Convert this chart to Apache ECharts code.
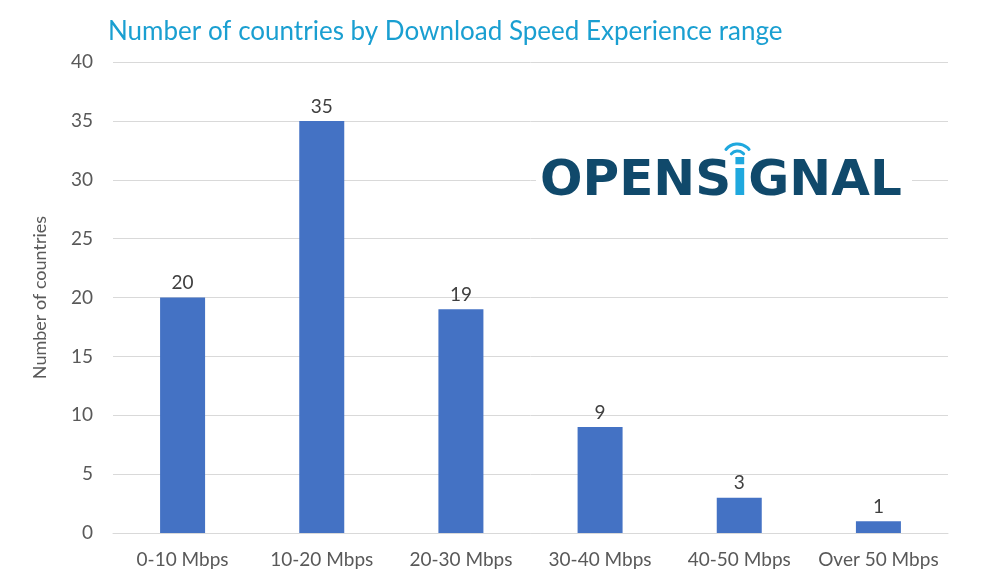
<!DOCTYPE html>
<html><head><meta charset="utf-8">
<script src="https://cdn.jsdelivr.net/npm/echarts@6/dist/echarts.min.js"></script>
<style>html,body{margin:0;padding:0;background:#fff}#c{width:1000px;height:586px}</style>
</head><body><div id="c"></div>
<script>
const categories = ['0-10 Mbps','10-20 Mbps','20-30 Mbps','30-40 Mbps','40-50 Mbps','Over 50 Mbps'];
const countries = [20, 35, 19, 9, 3, 1];
const yTicks = {min: 0, max: 40, interval: 5};

const chart = echarts.init(document.getElementById('c'));
chart.setOption({
  animation: false,
  title: {
    text: 'Number of countries by Download Speed Experience range',
    left: 103, top: 14,
    textStyle: {fontFamily: 'Lato', fontSize: 26, fontWeight: 'normal', color: '#1a9fd1'}
  },
  grid: {left: 113, right: 52, top: 62, bottom: 53},
  xAxis: {
    type: 'category', data: categories,
    axisLine: {lineStyle: {color: '#d9d9d9', width: 1}},
    axisTick: {show: false},
    axisLabel: {interval: 0, fontFamily: 'Lato', fontSize: 19, color: '#595959', margin: 17}
  },
  yAxis: {
    type: 'value', min: yTicks.min, max: yTicks.max, interval: yTicks.interval,
    name: 'Number of countries', nameLocation: 'middle', nameGap: 64,
    nameTextStyle: {fontFamily: 'Lato', fontSize: 18, color: '#595959'},
    axisLine: {show: false}, axisTick: {show: false},
    axisLabel: {fontFamily: 'Lato', fontSize: 19, color: '#595959', margin: 20},
    splitLine: {lineStyle: {color: '#d9d9d9', width: 1}}
  },
  series: [{
    type: 'bar', data: countries, barWidth: 45,
    itemStyle: {color: '#4472c4'},
    label: {show: true, position: 'top', fontFamily: 'Lato', fontSize: 19, color: '#404040', distance: 5}
  }],
  graphic: [
    {type: 'rect', left: 536, top: 156, shape: {width: 376, height: 42}, style: {fill: '#fff'}, z: 100},
    {type: 'text', left: 540, top: 157, z: 101,
     style: {
       text: '{a|OPENS}{b|i}{a|GNAL}',
       rich: {
         a: {fontFamily: 'DejaVu Sans', fontWeight: 'bold', fontSize: 50, fill: '#10496b'},
         b: {fontFamily: 'DejaVu Sans', fontWeight: 'bold', fontSize: 50, fill: '#1fa8de'}
       }
     }},
    {type: 'arc', z: 101, shape: {cx: 737.5, cy: 159, r: 8, startAngle: -Math.PI * 0.78, endAngle: -Math.PI * 0.22},
     style: {stroke: '#1fa8de', lineWidth: 3, fill: null, lineCap: 'round'}},
    {type: 'arc', z: 101, shape: {cx: 737.5, cy: 159, r: 15, startAngle: -Math.PI * 0.78, endAngle: -Math.PI * 0.22},
     style: {stroke: '#1fa8de', lineWidth: 3, fill: null, lineCap: 'round'}}
  ]
});
</script></body></html>
